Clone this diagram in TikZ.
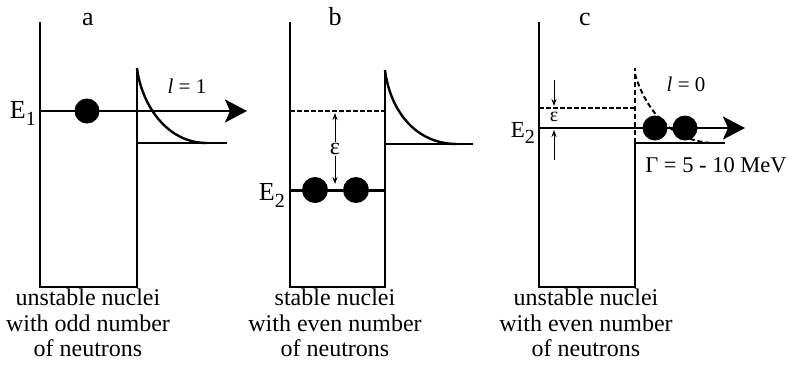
\documentclass[tikz,border=0pt]{standalone}
\usepackage{fontspec}
\setmainfont{Liberation Serif}
\usetikzlibrary{arrows.meta,positioning,calc}
\newcommand{\lowidx}[1]{\raisebox{-0.3em}{\fontsize{20}{20}\selectfont #1}}
\tikzset{
  wall/.style={line width=2.4pt,line join=miter},
  lvl/.style={line width=2.2pt},
  lvlthick/.style={line width=3pt},
  lvldash/.style={line width=2pt,dash pattern=on 4.5pt off 2.5pt},
  tailln/.style={line width=2.4pt},
  tailds/.style={line width=2pt,dash pattern=on 5pt off 3pt},
  ball/.style={circle,fill=black,inner sep=0pt,minimum size=25pt},
  outarr/.style={lvl,-{Stealth[length=22pt,width=23pt,inset=5pt]}},
  gaparr/.style={line width=1pt,-{Stealth[length=7pt,width=5pt]}},
  letter/.style={font=\fontsize{26}{26}\selectfont,anchor=base,inner sep=0pt},
  elab/.style={font=\fontsize{26}{26}\selectfont,anchor=base east,inner sep=0pt},
  lbl/.style={font=\fontsize{21}{21}\selectfont,inner sep=0pt},
  capt/.style={font=\fontsize{24}{25.5}\selectfont,align=center,anchor=north,inner sep=0pt},
}

\begin{document}
\begin{tikzpicture}[x=1pt,y=-1pt]
  \useasboundingbox (0,0) rectangle (796,376);
  % --- a: toq neytron ---
  \draw[wall] (40,22) -- (40,287) -- (137,287) -- (137,68);
  \draw[lvl] (137,143) -- (227,143);
  \draw[tailln] (137,68) .. controls (141,102) and (165,143) .. (207,143);
  \coordinate (a1) at (40,111);
  \coordinate (a2) at (247,111);
  \draw[outarr] (a1) -- (a2);
  \node[ball] (ba) at (87,111) {};
  \node[letter] (la) at (88,25) {a};
  \node[elab] (Ea) at (36,118) {E\lowidx{1}};
  \node[lbl] (ta) at (187,86) {\textit{l} = 1};
  % --- b: juft, bog'langan ---
  \draw[wall] (290,22) -- (290,287) -- (385,287) -- (385,70);
  \draw[lvl] (385,144) -- (473,144);
  \draw[tailln] (385,70) .. controls (390,110) and (415,144) .. (457,144);
  \draw[lvldash] (290,111) -- (385,111);
  \draw[lvlthick] (290,190) -- (385,190);
  \node[ball,minimum size=26pt] (bb1) at (315,190) {};
  \node[ball,minimum size=26pt] (bb2) at (356,190) {};
  \node[letter] (lb) at (335,25) {b};
  \node[elab] (Eb) at (285,200) {E\lowidx{2}};
  \node[lbl,font=\fontsize{24}{24}\selectfont,inner sep=1pt] (eb) at (335,149) {ε};
  \coordinate (bt) at (335,113);
  \coordinate (bd) at (335,184);
  \draw[gaparr] (eb) -- (bt);
  \draw[gaparr] (eb) -- (bd);
  % --- c: juft, erkin ---
  \draw[wall] (539,22) -- (539,287) -- (635,287) -- (635,143) -- (725,143);
  \draw[tailds] (635,143) -- (635,68);
  \draw[tailds] (635,74) .. controls (645,108) and (670,141) .. (712,143);
  \draw[lvldash] (539,108) -- (635,108);
  \coordinate (c1) at (539,128);
  \coordinate (c2) at (745,128);
  \draw[outarr] (c1) -- (c2);
  \node[ball] (bc1) at (655,128) {};
  \node[ball] (bc2) at (685,128) {};
  \node[letter] (lc) at (585,25) {c};
  \node[elab,font=\fontsize{23}{23}\selectfont] (Ec) at (535,137) {E\lowidx{2}};
  \node[lbl,font=\fontsize{20}{20}\selectfont] (ec) at (554,117) {ε};
  \coordinate (ct0) at (554,80);
  \coordinate (ct1) at (554,106);
  \coordinate (cb0) at (554,160);
  \coordinate (cb1) at (554,130);
  \draw[gaparr] (ct0) -- (ct1);
  \draw[gaparr] (cb0) -- (cb1);
  \node[lbl] (tc) at (686,84) {\textit{l} = 0};
  \node[lbl,font=\fontsize{22.5}{22.5}\selectfont] (gw) at (716,165) {Γ = 5 - 10 MeV};
  % izohlar
  \foreach \cx/\txt/\nm in {88/{unstable nuclei\\with odd number\\of neutrons}/ca,
      335/{stable nuclei\\with even number\\of neutrons}/cb,
      586/{unstable nuclei\\with even number\\of neutrons}/cc}{
    \node[capt] (\nm) at (\cx,289) {\txt};
  }
\end{tikzpicture}
\end{document}
